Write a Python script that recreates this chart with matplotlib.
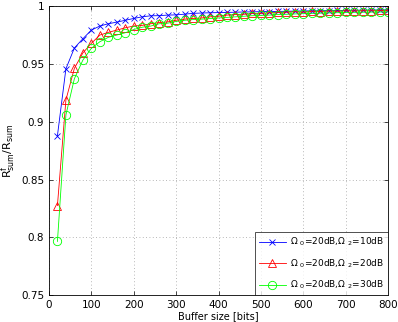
import matplotlib
matplotlib.use("Agg")
import matplotlib.pyplot as plt

plt.rcParams['font.family'] = ['DejaVu Sans']
plt.rcParams['mathtext.default'] = 'regular'

buffer_bits = list(range(20, 801, 20))

ratio_10db = [0.888, 0.946, 0.964, 0.972, 0.9795, 0.983, 0.985, 0.9864, 0.988, 0.9896,
              0.991, 0.9919, 0.992, 0.9925, 0.9927, 0.9933, 0.994, 0.9943, 0.9945, 0.9947,
              0.9948, 0.995, 0.9952, 0.9953, 0.9955, 0.9956, 0.9957, 0.9958, 0.996, 0.9961,
              0.9962, 0.9963, 0.9964, 0.9965, 0.9966, 0.9967, 0.9968, 0.9969, 0.997, 0.9971]

ratio_20db = [0.8275, 0.919, 0.9464, 0.9597, 0.968, 0.9752, 0.9775, 0.9795, 0.9815, 0.983,
              0.9836, 0.985, 0.986, 0.9866, 0.988, 0.989, 0.9896, 0.990, 0.991, 0.9915,
              0.9925, 0.993, 0.9932, 0.994, 0.994, 0.9945, 0.9948, 0.995, 0.9955, 0.995,
              0.9958, 0.9955, 0.996, 0.9958, 0.9962, 0.996, 0.9963, 0.9962, 0.9965, 0.9966]

ratio_30db = [0.7964, 0.906, 0.9374, 0.9535, 0.9637, 0.9694, 0.9732, 0.9752, 0.9772, 0.980,
              0.982, 0.983, 0.985, 0.9855, 0.987, 0.988, 0.9886, 0.989, 0.9895, 0.990,
              0.9905, 0.991, 0.9915, 0.992, 0.9922, 0.9925, 0.993, 0.9932, 0.9935, 0.9938,
              0.994, 0.9942, 0.9944, 0.9946, 0.9948, 0.9949, 0.995, 0.9951, 0.9952, 0.9953]

labels = [r'$\Omega$ $_0$=20dB,$\Omega$ $_2$=10dB',
          r'$\Omega$ $_0$=20dB,$\Omega$ $_2$=20dB',
          r'$\Omega$ $_0$=20dB,$\Omega$ $_2$=30dB']

fig = plt.figure(figsize=(3.98, 3.22), dpi=100)
ax = fig.add_axes([0.123, 0.084, 0.852, 0.896])

ax.plot(buffer_bits, ratio_10db, color='blue', marker='x', markersize=4,
        linewidth=0.6, markeredgewidth=0.6, label=labels[0])
ax.plot(buffer_bits, ratio_20db, color='red', marker='^', markersize=6,
        markerfacecolor='none', linewidth=0.6, markeredgewidth=0.6, label=labels[1])
ax.plot(buffer_bits, ratio_30db, color='#00ff00', marker='o', markersize=6,
        markerfacecolor='none', linewidth=0.6, markeredgewidth=0.6, label=labels[2])

ax.set_xlim(0, 800)
ax.set_ylim(0.75, 1.0)
ax.set_xticks(range(0, 801, 100))
ax.set_yticks([0.75, 0.8, 0.85, 0.9, 0.95, 1.0])
ax.set_yticklabels(['0.75', '0.8', '0.85', '0.9', '0.95', '1'])
ax.tick_params(direction='in', labelsize=7.5, length=3, width=0.5, top=True, right=True)
ax.grid(True, linestyle=(0, (1, 3)), color='#a0a0a0', linewidth=0.6)
for s in ax.spines.values():
    s.set_linewidth(0.6)

ax.set_xlabel('Buffer size [bits]', fontsize=7, labelpad=1)
ax.set_ylabel(r'$R^f_{sum}/R_{sum}$', fontsize=8, labelpad=2)

leg = ax.legend(loc='lower right', fontsize=6.5, fancybox=False, edgecolor='black',
                borderaxespad=0, handlelength=3.0, handletextpad=0.5, labelspacing=1.0)
leg.get_frame().set_linewidth(0.6)

fig.savefig('out.png', dpi=100)
